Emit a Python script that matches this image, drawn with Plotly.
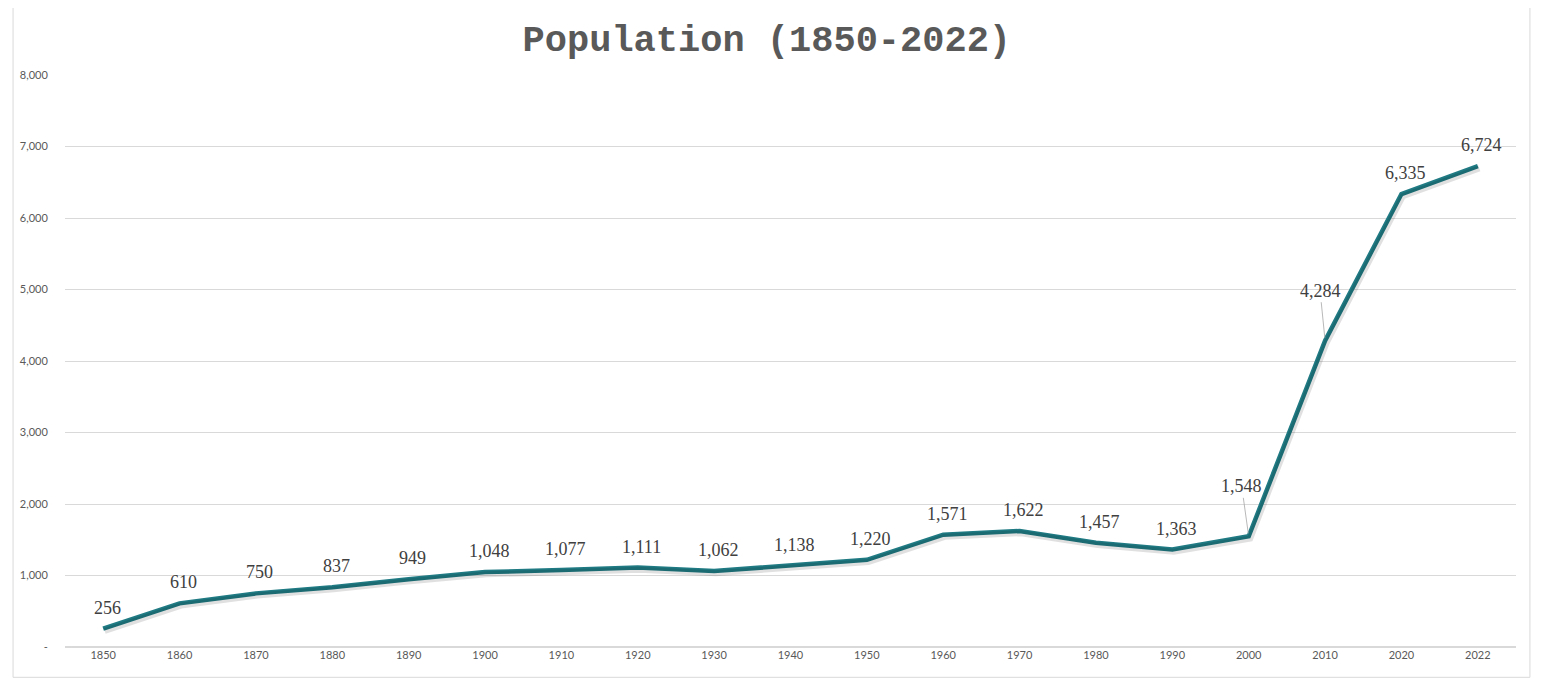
import plotly.graph_objects as go

years = ["1850", "1860", "1870", "1880", "1890", "1900", "1910", "1920", "1930", "1940",
         "1950", "1960", "1970", "1980", "1990", "2000", "2010", "2020", "2022"]
population = [256, 610, 750, 837, 949, 1048, 1077, 1111, 1062, 1138,
              1220, 1571, 1622, 1457, 1363, 1548, 4284, 6335, 6724]
y_ticks = [0, 1000, 2000, 3000, 4000, 5000, 6000, 7000, 8000]
y_tick_text = ["-", "1,000", "2,000", "3,000", "4,000", "5,000", "6,000", "7,000", "8,000"]

line_color = "#1F7A83"
label_font = dict(family="Liberation Serif, DejaVu Serif, serif", size=18, color="#404040")

fig = go.Figure()

# soft shadow under the line
fig.add_trace(go.Scatter(
    x=years, y=population, mode="lines",
    line=dict(color="rgba(0,0,0,0.12)", width=6),
    hoverinfo="skip", showlegend=False,
    xaxis="x2", yaxis="y2",
))

fig.add_trace(go.Scatter(
    x=years, y=population, mode="lines",
    line=dict(color=line_color, width=4.5),
    showlegend=False,
))

# data labels (category axis -> use the index), two of them get leader lines
leader = {"2000": (-7, -50), "2010": (-5, -50)}
for i, (yr, val) in enumerate(zip(years, population)):
    txt = f"{val:,}"
    if yr in leader:
        ax, ay = leader[yr]
        fig.add_annotation(x=i, y=val, text=txt, showarrow=True, arrowhead=0,
                           arrowwidth=0.8, arrowcolor="#A6A6A6", ax=ax, ay=ay,
                           standoff=3, font=label_font)
    else:
        fig.add_annotation(x=i, y=val, text=txt, showarrow=False, xshift=4,
                           yshift=21, font=label_font)

# outer chart frame
fig.add_shape(type="rect", xref="paper", yref="paper",
              x0=-0.0358, x1=1.0096, y0=-0.053, y1=1.119,
              line=dict(color="#D9D9D9", width=1))

# page body has an 8px margin, so the figure is shifted accordingly
fig.update_layout(
    width=1533, height=675,
    margin=dict(l=54, r=25, t=67, b=36),
    paper_bgcolor="white", plot_bgcolor="white",
    title=dict(text="<b>Population (1850-2022)</b>", x=0.495, xanchor="center",
               y=0.955, yanchor="middle",
               font=dict(family="Liberation Mono, Courier New, monospace", size=37, color="#595959")),
    xaxis=dict(type="category", range=[-0.5, 18.5], showgrid=False, showline=False,
               ticks="", tickfont=dict(family="Lato, Open Sans, sans-serif", size=11, color="#595959")),
    yaxis=dict(range=[0, 8000], tickvals=y_ticks, ticktext=y_tick_text, gridcolor="#D9D9D9",
               gridwidth=1, zeroline=True, zerolinecolor="#D9D9D9", showline=False,
               ticks="outside", ticklen=14, tickcolor="rgba(0,0,0,0)",
               tickfont=dict(family="Lato, Open Sans, sans-serif", size=11, color="#595959")),
    xaxis2=dict(type="category", range=[-0.5 - 0.02, 18.5 - 0.02], overlaying="x", visible=False),
    yaxis2=dict(range=[0 + 30, 8000 + 30], overlaying="y", visible=False),
)

fig.write_html("out.html")
